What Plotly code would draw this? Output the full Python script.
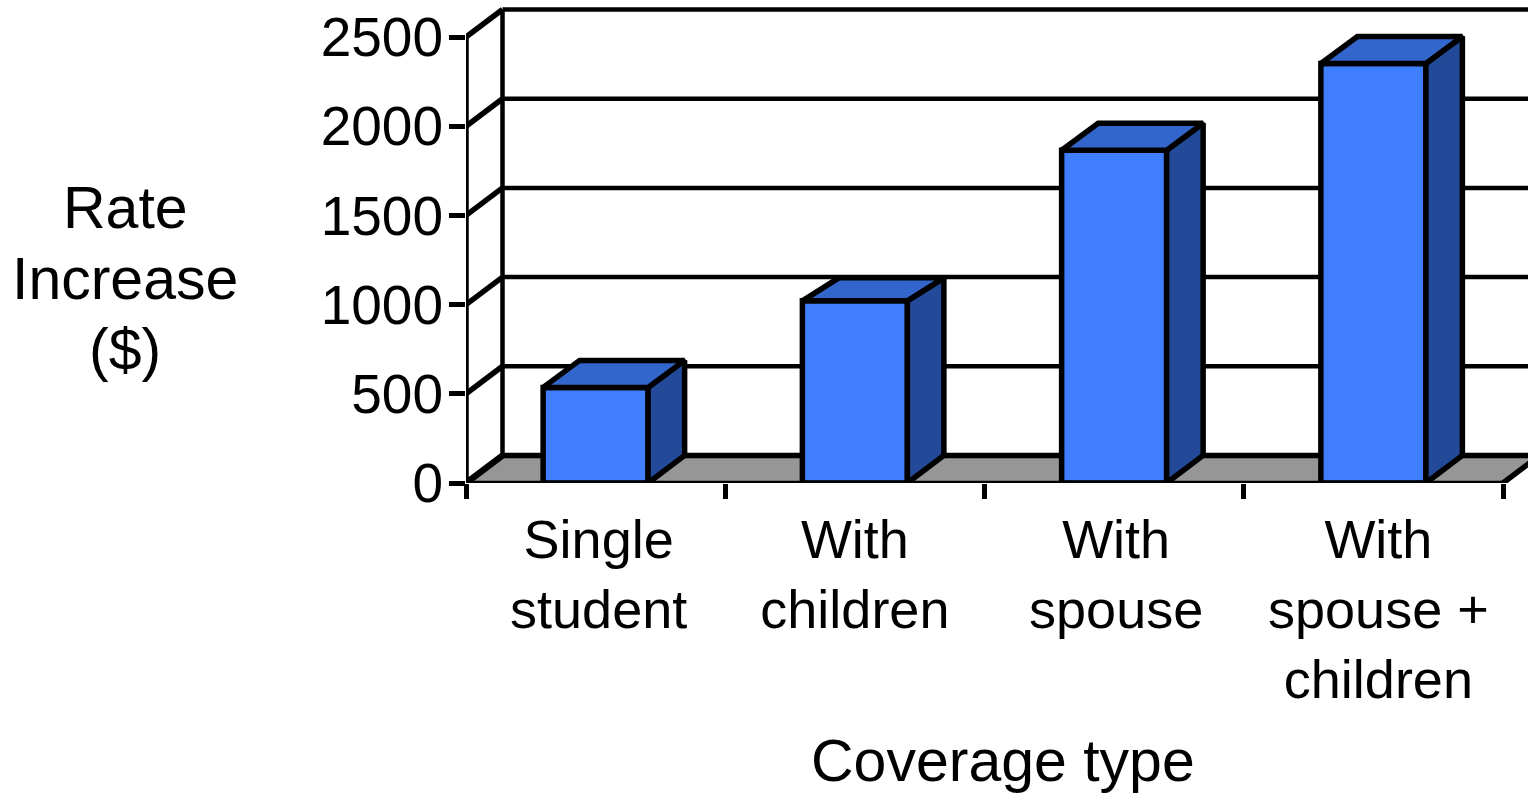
import plotly.graph_objects as go

categories = ["Single<br>student", "With<br>children", "With<br>spouse", "With<br>spouse +<br>children"]
rate_increase = [536, 1021, 1865, 2351]
y_ticks = [0, 500, 1000, 1500, 2000, 2500]
y_title_lines = ["Rate", "Increase", "($)"]

W, H = 1528, 793
LEFT, BASE = 466, 483
BAND = 259.25
PX_PER_UNIT = 446 / 2500
DX = 36.5 / BAND
DY = 27.5 / PX_PER_UNIT
BAR_DEPTH = [d / PX_PER_UNIT for d in (27, 23, 27, 27)]
LABEL_SHIFT = [s / BAND for s in (3, 0, 2, 5)]
BAR_W = 105 / BAND
LW = 4.5
BW = 5.5
FONT = "Liberation Sans"

xpos = list(range(len(categories)))
x0 = -0.5
x_end = len(categories) - 0.5
x_max = x0 + (W - LEFT) / BAND
y_max = BASE / PX_PER_UNIT

line = dict(color="black", width=LW)
thick = dict(color="black", width=BW)
shapes = [
    dict(type="path", layer="below", fillcolor="#969696", line=dict(width=0),
         path=f"M {x0} 0 L {x_end} 0 L {x_end + DX} {DY} L {x0 + DX} {DY} Z"),
    dict(type="line", layer="below", x0=x0 + DX, x1=x_max, y0=DY, y1=DY, line=thick),
    dict(type="line", layer="below", x0=x_end, x1=x_end + DX, y0=0, y1=DY, line=thick),
    dict(type="line", layer="below", x0=x0 + DX, x1=x0 + DX, y0=DY, y1=y_ticks[-1] + DY, line=line),
]
for t in y_ticks:
    shapes.append(dict(type="line", layer="below", x0=x0, x1=x0 + DX, y0=t, y1=t + DY,
                       line=dict(color="black", width=6.5 if t == 0 else BW)))
    if t > 0:
        shapes.append(dict(type="line", layer="below", x0=x0 + DX, x1=x_max, y0=t + DY, y1=t + DY, line=line))

fig = go.Figure()
fig.add_trace(go.Bar(x=xpos, y=rate_increase, width=BAR_W, marker=dict(color="#3f7fff", line=thick), hoverinfo="skip"))

side_x, side_y, top_x, top_y = [], [], [], []
for x, v, d in zip(xpos, rate_increase, BAR_DEPTH):
    l, r = x - BAR_W / 2, x + BAR_W / 2
    side_x += [r, r + DX, r + DX, r, r, None]
    side_y += [0, DY, v + d, v, 0, None]
    top_x += [l, l + DX, r + DX, r, l, None]
    top_y += [v, v + d, v + d, v, v, None]

fig.add_trace(go.Scatter(x=side_x, y=side_y, mode="lines", fill="toself", fillcolor="#224a99",
                         line=thick, cliponaxis=False, hoverinfo="skip"))
fig.add_trace(go.Scatter(x=top_x, y=top_y, mode="lines", fill="toself", fillcolor="#3366cc",
                         line=thick, cliponaxis=False, hoverinfo="skip"))
# front axis lines
fig.add_trace(go.Scatter(x=[x0, x_end], y=[0, 0], mode="lines", line=line, cliponaxis=False, hoverinfo="skip"))
fig.add_trace(go.Scatter(x=[x0, x0], y=[0, y_ticks[-1]], mode="lines", line=thick, cliponaxis=False, hoverinfo="skip"))

annotations = [
    dict(text=txt, xref="paper", yref="paper", showarrow=False,
         x=(125 - LEFT) / (W - LEFT), y=(BASE - yc) / BASE, xanchor="center", yanchor="middle",
         font=dict(size=59))
    for txt, yc in zip(y_title_lines, [208, 279, 350])
]
annotations.append(dict(text="Coverage type", xref="paper", yref="paper", showarrow=False,
                        x=(1003 - LEFT) / (W - LEFT), y=(BASE - 761) / BASE, xanchor="center", yanchor="middle",
                        font=dict(size=59)))

fig.update_layout(
    width=W, height=H, margin=dict(l=LEFT, r=0, t=0, b=H - BASE, pad=0),
    paper_bgcolor="white", plot_bgcolor="white", showlegend=False, shapes=shapes,
    font=dict(family=FONT, size=54, color="black"),
    xaxis=dict(range=[x0, x_max], tickvals=[x + s for x, s in zip(xpos, LABEL_SHIFT)], ticktext=categories,
               ticks="", ticklen=0, ticklabelstandoff=20, showgrid=False, zeroline=False, showline=False,
               tickangle=0, tickfont=dict(size=54),
               minor=dict(tickvals=[x0 + i for i in range(len(categories) + 1)], ticks="outside",
                          ticklen=15, tickwidth=LW, tickcolor="black", showgrid=False)),
    yaxis=dict(range=[0, y_max], tickvals=y_ticks, ticks="outside", ticklen=16, tickwidth=LW,
               tickcolor="black", showgrid=False, zeroline=False, showline=False,
               ticklabelstandoff=-5, tickfont=dict(size=55)),
    annotations=annotations,
)
fig.write_html("out.html", config={"displayModeBar": False},
               post_script="document.body.style.margin='0';")
